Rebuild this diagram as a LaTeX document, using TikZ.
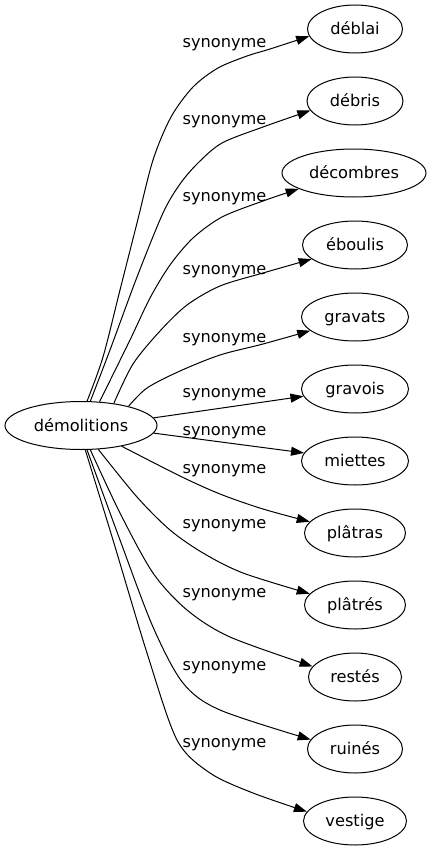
\documentclass[tikz,border=0pt]{standalone}
\usepackage{fontspec}
\setmainfont{DejaVu Sans}
\usetikzlibrary{shapes.geometric,arrows.meta}
\begin{document}
\begin{tikzpicture}[x=1pt,y=-1pt,
  nd/.style={ellipse,draw,line width=1pt,inner sep=0pt,minimum height=48pt,
    text height=11pt,text depth=0pt,font=\fontsize{16.2}{19}\selectfont},
  lab/.style={anchor=base,inner sep=0pt,font=\fontsize{16.2}{19}\selectfont},
  edge/.style={line width=1pt,-{Triangle[length=13pt,width=9pt]}},
  sm/.style={smooth,tension=0.5}]
\useasboundingbox (0,0) rectangle (431,851);
% nodes
\node[nd,minimum width=152pt] (c) at (81,425.5) {démolitions};
\node[nd,minimum width=95pt]  (t1)  at (355,29)  {déblai};
\node[nd,minimum width=96pt]  (t2)  at (355,101) {débris};
\node[nd,minimum width=144pt] (t3)  at (354,173) {décombres};
\node[nd,minimum width=105pt] (t4)  at (355,245) {éboulis};
\node[nd,minimum width=107pt] (t5)  at (355,317) {gravats};
\node[nd,minimum width=107pt] (t6)  at (355,389) {gravois};
\node[nd,minimum width=107pt] (t7)  at (355,461) {miettes};
\node[nd,minimum width=101pt] (t8)  at (355,533) {plâtras};
\node[nd,minimum width=101pt] (t9)  at (355,605) {plâtrés};
\node[nd,minimum width=93pt]  (t10) at (355,677) {restés};
\node[nd,minimum width=95pt]  (t11) at (355,749) {ruinés};
\node[nd,minimum width=103pt] (t12) at (355,821) {vestige};
% labels
\node[lab] (l1)  at (224.5,48)    {synonyme};
\node[lab] (l2)  at (224.5,124.5) {synonyme};
\node[lab] (l3)  at (224.5,201.5) {synonyme};
\node[lab] (l4)  at (224.5,274.5) {synonyme};
\node[lab] (l5)  at (224.5,342.5) {synonyme};
\node[lab] (l6)  at (224.5,397.5) {synonyme};
\node[lab] (l7)  at (224.5,435.5) {synonyme};
\node[lab] (l8)  at (224.5,473.5) {synonyme};
\node[lab] (l9)  at (224.5,528.5) {synonyme};
\node[lab] (l10) at (224.5,597.5) {synonyme};
\node[lab] (l11) at (224.5,670.5) {synonyme};
\node[lab] (l12) at (224.5,747.5) {synonyme};
% edges (waypoints traced along each spline)
\draw[edge] plot[sm] coordinates {(c.76) (103,357) (120,290) (137,223) (153,160)
  (171,117) (193,87) (218,68) (247,56) (270,49) (t1.189.4)};
\draw[edge] plot[sm] coordinates {(c.69.3) (110,350) (137,277) (163,213) (180,184)
  (198,163) (222,143) (263,127) (t2.192.8)};
\draw[edge] plot[sm] coordinates {(c.52.3) (130,340) (150,298) (170,265) (193,238)
  (222,217) (263,201) (t3.196.6)};
\draw[edge] plot[sm] coordinates {(c.34.2) (133,364) (160,331) (187,305) (220,286)
  (263,273) (t4.198)};
\draw[edge] plot[sm] coordinates {(c.22.6) (147,388) (180,371) (220,355) (263,344)
  (t5.197)};
\draw[edge] (c.6.2) -- (t6.188.2);
\draw[edge] (c.-6.9) -- (t7.171.8);
\draw[edge] plot[sm] coordinates {(c.-27.8) (180,476) (220,494) (263,509) (t8.166)};
\draw[edge] plot[sm] coordinates {(c.-54) (137,497) (170,530) (203,553) (243,573)
  (t9.166)};
\draw[edge] plot[sm] coordinates {(c.-69.3) (120,513) (153,573) (187,610) (230,637)
  (t10.166)};
\draw[edge] plot[sm] coordinates {(c.-76) (120,540) (153,627) (183,683) (220,710)
  (t11.168)};
\draw[edge] plot[sm] coordinates {(c.-80.6) (113,540) (147,653) (177,740) (210,773)
  (253,793) (t12.169)};
\end{tikzpicture}
\end{document}
